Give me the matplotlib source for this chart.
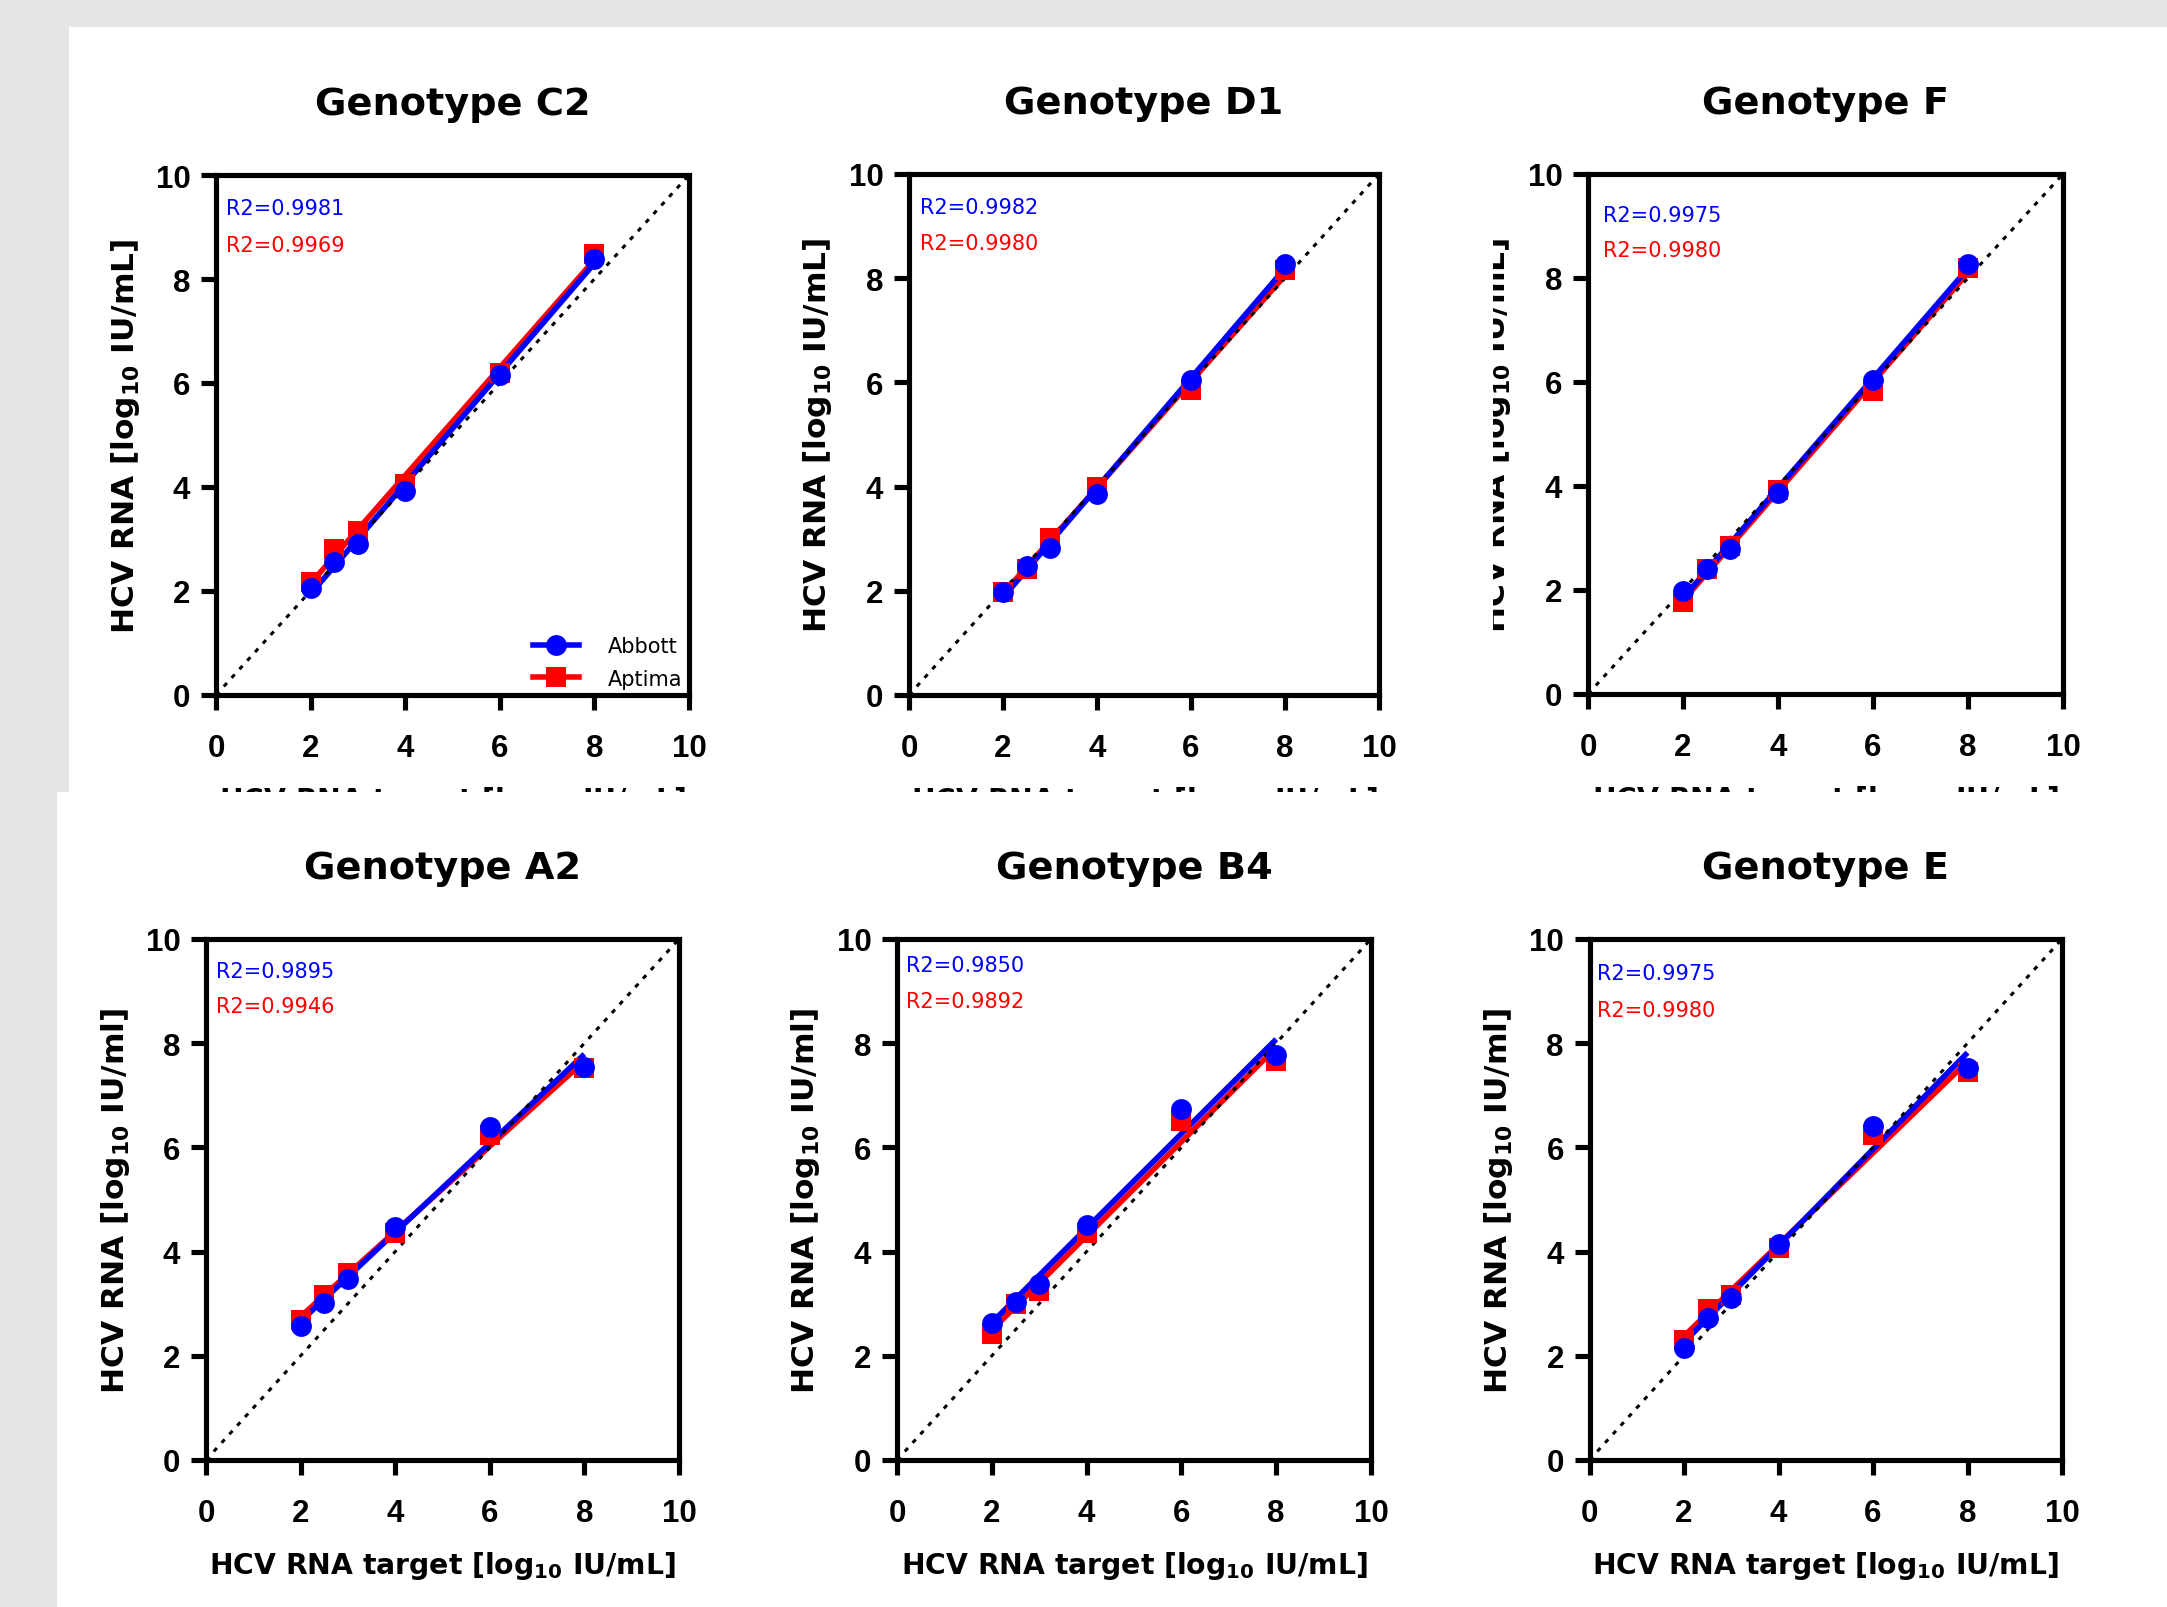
import numpy as np
import matplotlib
matplotlib.use('Agg')
import matplotlib.pyplot as plt
from matplotlib.patches import Rectangle
from matplotlib.lines import Line2D

plt.rcParams['font.family'] = ['DejaVu Sans']
plt.rcParams['mathtext.fontset'] = 'dejavusans'

# ---------------- data ----------------
target = [2, 2.5, 3, 4, 6, 8]

titles = ['Genotype C2', 'Genotype D1', 'Genotype F',
          'Genotype A2', 'Genotype B4', 'Genotype E']

abbott_c2 = [2.06, 2.55, 2.91, 3.92, 6.15, 8.38]
aptima_c2 = [2.18, 2.81, 3.16, 4.05, 6.20, 8.48]
abbott_d1 = [1.98, 2.47, 2.83, 3.86, 6.04, 8.27]
aptima_d1 = [1.98, 2.42, 3.01, 4.00, 5.85, 8.15]
abbott_f = [1.99, 2.40, 2.79, 3.87, 6.03, 8.26]
aptima_f = [1.77, 2.40, 2.84, 3.92, 5.83, 8.20]
abbott_a2 = [2.57, 3.02, 3.48, 4.48, 6.40, 7.55]
aptima_a2 = [2.68, 3.17, 3.59, 4.35, 6.24, 7.52]
abbott_b4 = [2.62, 3.04, 3.38, 4.51, 6.74, 7.77]
aptima_b4 = [2.41, 2.99, 3.25, 4.35, 6.50, 7.66]
abbott_e = [2.15, 2.73, 3.10, 4.14, 6.42, 7.52]
aptima_e = [2.31, 2.89, 3.17, 4.07, 6.24, 7.45]

abbott_all = [abbott_c2, abbott_d1, abbott_f, abbott_a2, abbott_b4, abbott_e]
aptima_all = [aptima_c2, aptima_d1, aptima_f, aptima_a2, aptima_b4, aptima_e]

r2_abbott = ['0.9981', '0.9982', '0.9975', '0.9895', '0.9850', '0.9975']
r2_aptima = ['0.9969', '0.9980', '0.9980', '0.9946', '0.9892', '0.9980']

y_units = ['IU/mL', 'IU/mL', 'IU/mL', 'IU/ml', 'IU/ml', 'IU/ml']

ticks = [0, 2, 4, 6, 8, 10]
tick_labels = ['0', '2', '4', '6', '8', '10']

series_names = ['Abbott', 'Aptima']

# ---------------- layout (pixels) ----------------
W, H = 2167, 1608
DPI = 100
BLUE = '#0000ff'
RED = '#ff0000'

# (left, right, top, bottom) of each axes box in pixels
axes_px = [(216, 689, 176, 696), (909, 1379, 175, 696), (1588, 2063, 175, 695),
           (206, 679, 940, 1461), (897, 1371, 940, 1461), (1589.5, 2062, 940, 1461)]
# R2 text: (dx from left spine, dy of first line from top, dy of second line)
r2_px = [(10, 33, 70), (11.5, 33.5, 69), (15, 41, 76.5),
         (9.5, 31.6, 67), (9, 26, 61.7), (7.7, 34, 71)]

fig = plt.figure(figsize=(W / DPI, H / DPI), dpi=DPI)
fig.patch.set_facecolor('#e5e5e5')


def frect(x0, y0, x1, y1, z):
    r = Rectangle((x0 / W, 1 - y1 / H), (x1 - x0) / W, (y1 - y0) / H,
                  transform=fig.transFigure, facecolor='white', edgecolor='none',
                  zorder=z)
    fig.patches.append(r)


frect(69, 28, W, 793, 0.1)        # top row panel
frect(1420, 28, 1493, 793, 0.25)  # overlapping edge of the F panel
frect(56.5, 793, W, H, 0.3)       # bottom row panel

for i in range(6):
    l, r, t, b = axes_px[i]
    wpx, hpx = r - l, b - t
    ax = fig.add_axes([l / W, 1 - b / H, wpx / W, hpx / H])
    ax.set_zorder(0.2 if i < 3 else 0.4)
    ax.set_xlim(0, 10)
    ax.set_ylim(0, 10)
    for sp in ax.spines.values():
        sp.set_linewidth(3.7)
        sp.set_color('black')
        sp.set_capstyle('projecting')
    ax.set_xticks(ticks, labels=tick_labels, fontfamily='Liberation Sans',
                  fontweight='bold', fontsize=22.5)
    ax.set_yticks(ticks, labels=tick_labels, fontfamily='Liberation Sans',
                  fontweight='bold', fontsize=22.5)
    ax.tick_params(axis='both', direction='out', length=10.5, width=3.7)
    ax.tick_params(axis='x', pad=17)
    ax.tick_params(axis='y', pad=8)

    # identity line
    ax.plot([0, 10], [0, 10], color='black', lw=2.2, ls=(0, (1.5, 2.3)), zorder=2.5)

    for ys, col, mk in [(aptima_all[i], RED, 's'), (abbott_all[i], BLUE, 'o')]:
        coef = np.polyfit(target, ys, 1)
        xs = np.array([target[0], target[-1]])
        ax.plot(xs, np.polyval(coef, xs), color=col, lw=4.0, zorder=2.2,
                solid_capstyle='butt')
        ax.plot(target, ys, ls='none', marker=mk, ms=15, color=col, mew=0, zorder=3)

    dx, dy1, dy2 = r2_px[i]
    ax.text(dx / wpx, 1 - dy1 / hpx, 'R2=' + r2_abbott[i], color=BLUE, fontsize=15,
            ha='left', va='center', transform=ax.transAxes)
    ax.text(dx / wpx, 1 - dy2 / hpx, 'R2=' + r2_aptima[i], color=RED, fontsize=15,
            ha='left', va='center', transform=ax.transAxes)

    ax.set_title(titles[i], fontsize=27.5, fontweight='bold', pad=44)

    ax.text(-91 / wpx, 0.5, r'HCV RNA [log$_{\mathbf{10}}$ ' + y_units[i] + ']',
            rotation=90, ha='center', va='center', fontsize=22.5, fontweight='bold',
            transform=ax.transAxes, clip_on=False)
    ax.text(0.5, -105 / hpx, r'HCV RNA target [log$_{\mathbf{10}}$ IU/mL]',
            ha='center', va='center', fontsize=20.3, fontweight='bold',
            transform=ax.transAxes, clip_on=False)

    if i == 0:
        handles = [Line2D([], [], color=BLUE, lw=4.0, marker='o', ms=15, mew=0),
                   Line2D([], [], color=RED, lw=4.0, marker='s', ms=15, mew=0)]
        ax.legend(handles, series_names, loc='lower right', frameon=False,
                  fontsize=15, handlelength=2.2, handletextpad=1.4,
                  labelspacing=0.6, borderaxespad=0.2, borderpad=0.1)

fig.savefig('out.png', dpi=DPI, facecolor=fig.get_facecolor())
